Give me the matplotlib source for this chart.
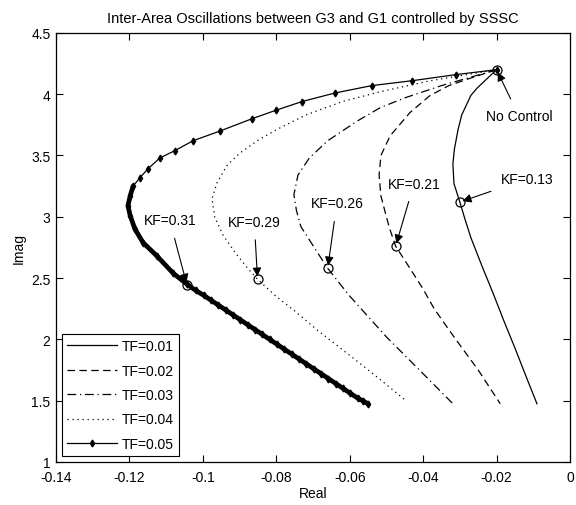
import numpy as np
import matplotlib
matplotlib.use("Agg")
import matplotlib.pyplot as plt

plt.rcParams['font.family'] = ['Liberation Sans', 'DejaVu Sans']

# eigenvalue loci (real, imag)
tf01_re = [-0.020, -0.0253, -0.027, -0.0295, -0.0305, -0.0315, -0.0319, -0.0316, -0.0300,
           -0.0285, -0.0270, -0.0240, -0.0210, -0.0180, -0.0150, -0.0120, -0.0090]
tf01_im = [4.20, 4.05, 3.99, 3.83, 3.71, 3.55, 3.43, 3.27, 3.12,
           2.97, 2.83, 2.60, 2.38, 2.15, 1.93, 1.70, 1.475]

tf02_re = [-0.020, -0.0272, -0.0330, -0.0381, -0.0436, -0.0490, -0.0515, -0.0520, -0.0515,
           -0.0493, -0.0475, -0.0436, -0.0400, -0.0370, -0.0316, -0.0250, -0.0190]
tf02_im = [4.20, 4.13, 4.07, 3.99, 3.85, 3.66, 3.50, 3.34, 3.17,
           2.92, 2.76, 2.58, 2.41, 2.25, 2.02, 1.75, 1.475]

tf03_re = [-0.020, -0.0350, -0.0450, -0.0517, -0.0580, -0.0660, -0.0710, -0.0741, -0.0752,
           -0.0745, -0.0733, -0.0686, -0.0660, -0.0602, -0.0500, -0.0410, -0.0319]
tf03_im = [4.20, 4.07, 3.97, 3.89, 3.78, 3.62, 3.48, 3.34, 3.18,
           3.05, 2.92, 2.70, 2.58, 2.36, 2.02, 1.75, 1.475]

tf04_re = [-0.020, -0.0380, -0.0517, -0.0620, -0.0720, -0.0800, -0.0852, -0.0899, -0.0934,
           -0.0961, -0.0975, -0.0968, -0.0945, -0.0910, -0.0875, -0.0851, -0.0800, -0.0745,
           -0.0686, -0.0600, -0.0520, -0.0447]
tf04_im = [4.20, 4.11, 4.02, 3.94, 3.83, 3.71, 3.62, 3.52, 3.42,
           3.28, 3.15, 3.00, 2.85, 2.70, 2.57, 2.49, 2.35, 2.22,
           2.07, 1.87, 1.68, 1.50]

tf05_re = [-0.020, -0.031, -0.043, -0.054, -0.064, -0.073, -0.080, -0.0866, -0.0953, -0.1027,
           -0.1076, -0.1117, -0.1150, -0.1171, -0.1190, -0.1198, -0.1204, -0.1198, -0.1185,
           -0.1163, -0.1125, -0.1081, -0.1043, -0.1020, -0.0998, -0.0978, -0.0958, -0.0938,
           -0.0918, -0.0898, -0.0878, -0.0858, -0.0838, -0.0818, -0.0798, -0.0778, -0.0758,
           -0.0738, -0.0718, -0.0698, -0.0678, -0.0658, -0.0638, -0.0618, -0.0598, -0.0578,
           -0.0565, -0.0550]
tf05_im = [4.20, 4.16, 4.11, 4.07, 4.01, 3.94, 3.87, 3.80, 3.70, 3.62,
           3.54, 3.48, 3.39, 3.32, 3.25, 3.17, 3.09, 3.01, 2.90,
           2.79, 2.68, 2.54, 2.45, 2.40, 2.36, 2.32, 2.28, 2.24,
           2.20, 2.16, 2.12, 2.08, 2.04, 2.00, 1.96, 1.92, 1.88,
           1.84, 1.80, 1.76, 1.72, 1.68, 1.64, 1.60, 1.56, 1.52,
           1.50, 1.475]

# marked operating points and their labels
kf_labels = ["No Control", "KF=0.13", "KF=0.21", "KF=0.26", "KF=0.29", "KF=0.31"]
kf_re = [-0.020, -0.0300, -0.0475, -0.0660, -0.0851, -0.1043]
kf_im = [4.20, 3.12, 2.76, 2.58, 2.49, 2.44]
txt_re = [-0.0139, -0.0117, -0.0425, -0.0635, -0.0860, -0.1090]
txt_im = [3.82, 3.31, 3.27, 3.11, 2.96, 2.97]

fig = plt.figure(figsize=(5.76, 5.06), dpi=100)
ax = fig.add_axes([0.0972, 0.085, 0.8924, 0.848])

lw = 0.9
ax.plot(tf01_re, tf01_im, '-', color='k', lw=lw, label='TF=0.01')
ax.plot(tf02_re, tf02_im, color='k', lw=lw, dashes=(6, 3.5), label='TF=0.02')
ax.plot(tf03_re, tf03_im, color='k', lw=lw, dashes=(7, 3, 1, 3), label='TF=0.03')
ax.plot(tf04_re, tf04_im, color='k', lw=lw, dashes=(1, 3), label='TF=0.04')
ax.plot(tf05_re, tf05_im, '-', color='k', lw=lw, marker='d', ms=3.5, label='TF=0.05')
# dense markers in the lower branch merge into a heavy line
ax.plot(tf05_re[14:], tf05_im[14:], '-', color='k', lw=3.4, solid_capstyle='round')

ax.plot(kf_re, kf_im, 'o', ms=6.5, mfc='none', mec='k', mew=0.9)

for lab, xr, yi, tx, ty in zip(kf_labels, kf_re, kf_im, txt_re, txt_im):
    ax.annotate(lab, xy=(xr, yi), xytext=(tx, ty), ha='center', va='center', fontsize=10,
                arrowprops=dict(arrowstyle='-|>', color='k', lw=0.8, mutation_scale=13,
                                shrinkA=6, shrinkB=2))

ax.set_xlim(-0.14, 0)
ax.set_ylim(1, 4.5)
ax.set_xticks([-0.14, -0.12, -0.1, -0.08, -0.06, -0.04, -0.02, 0])
ax.set_xticklabels(['-0.14', '-0.12', '-0.1', '-0.08', '-0.06', '-0.04', '-0.02', '0'])
ax.set_yticks([1, 1.5, 2, 2.5, 3, 3.5, 4, 4.5])
ax.set_yticklabels(['1', '1.5', '2', '2.5', '3', '3.5', '4', '4.5'])
ax.tick_params(direction='in', top=True, right=True, length=5, width=0.8, labelsize=10)
ax.tick_params(axis='x', pad=6)
ax.tick_params(axis='y', pad=4)
for s in ax.spines.values():
    s.set_linewidth(0.9)

ax.set_xlabel('Real', fontsize=10, labelpad=1)
ax.set_ylabel('Imag', fontsize=10, labelpad=4)
ax.set_title('Inter-Area Oscillations between G3 and G1 controlled by SSSC', fontsize=10.5, pad=8)

leg = ax.legend(loc='lower left', fontsize=10, handlelength=3.6, handletextpad=0.3,
                labelspacing=0.75, borderaxespad=0.4, fancybox=False, framealpha=1,
                borderpad=0.4)
leg.get_frame().set_edgecolor('k')
leg.get_frame().set_linewidth(0.8)

fig.savefig('out.png', dpi=100)
